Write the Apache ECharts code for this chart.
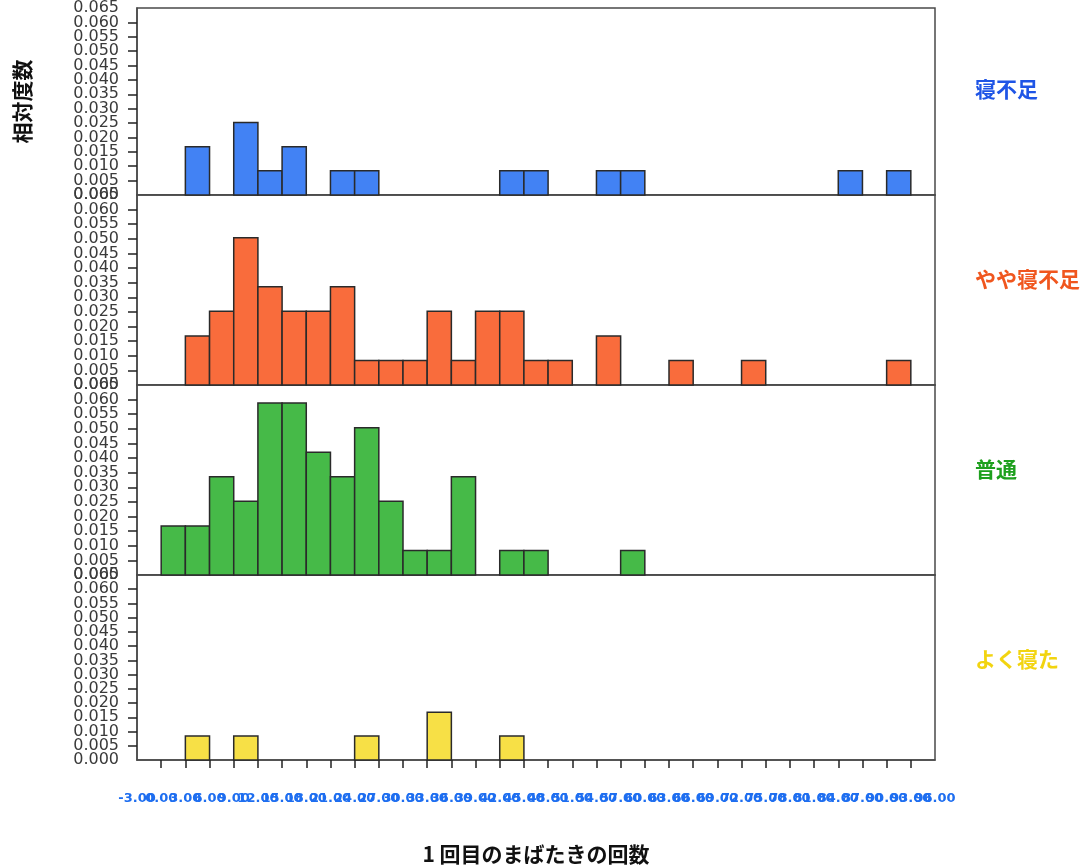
<!DOCTYPE html>
<html>
<head>
<meta charset="utf-8">
<script src="https://cdn.jsdelivr.net/npm/echarts@6/dist/echarts.min.js"></script>
<style>
  html, body { margin: 0; padding: 0; background: #ffffff; }
  #chart { width: 1089px; height: 866px; }
</style>
</head>
<body>
<div id="chart"></div>
<script>
// Histogram of blink counts (bins of width 3), one panel per sleep group
const groupNames = ['寝不足', 'やや寝不足', '普通', 'よく寝た'];
const binWidth = 3;

const shortSleepStart = [3, 9, 12, 15, 21, 24, 42, 45, 54, 57, 84, 90];
const shortSleepFreq  = [0.0168, 0.0252, 0.0084, 0.0168, 0.0084, 0.0084, 0.0084, 0.0084, 0.0084, 0.0084, 0.0084, 0.0084];

const slightlyShortStart = [3, 6, 9, 12, 15, 18, 21, 24, 27, 30, 33, 36, 39, 42, 45, 48, 54, 63, 72, 90];
const slightlyShortFreq  = [0.0168, 0.0252, 0.0504, 0.0336, 0.0252, 0.0252, 0.0336, 0.0084, 0.0084, 0.0084,
                            0.0252, 0.0084, 0.0252, 0.0252, 0.0084, 0.0084, 0.0168, 0.0084, 0.0084, 0.0084];

const normalStart = [0, 3, 6, 9, 12, 15, 18, 21, 24, 27, 30, 33, 36, 42, 45, 57];
const normalFreq  = [0.0168, 0.0168, 0.0336, 0.0252, 0.0588, 0.0588, 0.042, 0.0336, 0.0504, 0.0252,
                     0.0084, 0.0084, 0.0336, 0.0084, 0.0084, 0.0084];

const wellSleptStart = [3, 9, 24, 33, 42];
const wellSleptFreq  = [0.0084, 0.0084, 0.0084, 0.0168, 0.0084];

const xMin = -3, xMax = 96, xStep = 3;
const yMin = 0, yMax = 0.065, yStep = 0.005;

const groupStarts = [shortSleepStart, slightlyShortStart, normalStart, wellSleptStart];
const groupFreqs  = [shortSleepFreq, slightlyShortFreq, normalFreq, wellSleptFreq];

const fillColors  = ['#4282F4', '#F96C3C', '#46BA48', '#F7E046'];
const labelColors = ['#1F55E6', '#F0561E', '#1EA01E', '#F2D410'];

const plotLeft = 137, plotRight = 154;
const panelTops = [5, 195, 385, 575];
const panelHeight = 190;

const xLabelStyle = {
  margin: 32, hideOverlap: false,
  color: '#1E6EF0', fontFamily: 'DejaVu Sans', fontWeight: 'bold', fontSize: 13
};
const yLabelStyle = {
  margin: 18, hideOverlap: false,
  color: '#3a3a3a', fontFamily: 'DejaVu Sans', fontSize: 16
};
const isEnd = (v, lo, hi) => Math.abs(v - lo) < 1e-9 || Math.abs(v - hi) < 1e-9;

const chart = echarts.init(document.getElementById('chart'), null, { renderer: 'canvas' });

const grids = [], xAxes = [], yAxes = [], series = [], graphics = [];

groupNames.forEach((name, i) => {
  const isLast = i === groupNames.length - 1;
  grids.push({
    left: plotLeft, right: plotRight, top: panelTops[i], height: panelHeight,
    show: true, borderColor: '#4a4a4a', borderWidth: 1.5, backgroundColor: '#ffffff'
  });
  xAxes.push({
    type: 'value', gridIndex: i, min: xMin, max: xMax, interval: xStep,
    splitLine: { show: false },
    axisLine: { show: true, onZero: false, lineStyle: { color: '#4a4a4a', width: 1.5 } },
    axisTick: { show: isLast, length: 8, lineStyle: { color: '#222', width: 1.5 } },
    axisLabel: Object.assign({}, xLabelStyle, {
      show: isLast, showMinLabel: false, showMaxLabel: false,
      formatter: v => v.toFixed(2)
    }),
    name: isLast ? '1 回目のまばたきの回数' : '',
    nameLocation: 'middle', nameGap: 84,
    nameTextStyle: { color: '#111', fontFamily: 'Noto Sans CJK JP', fontWeight: 'bold', fontSize: 21 }
  });
  yAxes.push({
    type: 'value', gridIndex: i, min: yMin, max: yMax, interval: yStep,
    splitLine: { show: false },
    axisLine: { show: true, onZero: false, lineStyle: { color: '#4a4a4a', width: 1.5 } },
    axisTick: { show: true, length: 9, lineStyle: { color: '#222', width: 1.5 } },
    axisLabel: Object.assign({}, yLabelStyle, {
      showMinLabel: false, showMaxLabel: false,
      formatter: v => v.toFixed(3)
    }),
    name: i === 0 ? '相対度数' : '',
    nameLocation: 'middle', nameRotate: 90, nameGap: 104,
    nameTextStyle: { color: '#111', fontFamily: 'Noto Sans CJK JP', fontWeight: 'bold', fontSize: 21 }
  });
  // end labels (0.000 and 0.065) on an overlaid axis sharing the same scale
  yAxes.push({
    type: 'value', gridIndex: i, min: yMin, max: yMax, interval: yStep, position: 'left',
    splitLine: { show: false }, axisLine: { show: false }, axisTick: { show: false },
    axisLabel: Object.assign({}, yLabelStyle, {
      showMinLabel: true, showMaxLabel: true,
      formatter: v => isEnd(v, yMin, yMax) ? v.toFixed(3) : ''
    })
  });
  const data = groupStarts[i].map((s, k) => [s, s + binWidth, groupFreqs[i][k]]);
  series.push({
    type: 'custom', xAxisIndex: i, yAxisIndex: 2 * i, data: data,
    encode: { x: [0, 1], y: 2 },
    renderItem: (params, api) => {
      const topLeft = api.coord([api.value(0), api.value(2)]);
      const bottomRight = api.coord([api.value(1), 0]);
      return {
        type: 'rect',
        shape: { x: topLeft[0], y: topLeft[1], width: bottomRight[0] - topLeft[0], height: bottomRight[1] - topLeft[1] },
        style: { fill: fillColors[i], stroke: '#2a2a2a', lineWidth: 1.5 }
      };
    }
  });
  graphics.push({
    type: 'text', left: 975, top: panelTops[i] + panelHeight / 2 - 21,
    style: {
      text: name, fill: labelColors[i],
      font: 'bold 21px "Noto Sans CJK JP"'
    }
  });
});

// End labels of the bottom axis (min and max), on an overlaid axis sharing the same scale
xAxes.push({
  type: 'value', gridIndex: groupNames.length - 1, min: xMin, max: xMax, interval: xStep,
  position: 'bottom',
  splitLine: { show: false }, axisLine: { show: false }, axisTick: { show: false },
  axisLabel: Object.assign({}, xLabelStyle, {
    showMinLabel: true, showMaxLabel: true,
    formatter: v => isEnd(v, xMin, xMax) ? v.toFixed(2) : ''
  })
});

chart.setOption({
  backgroundColor: '#ffffff',
  animation: false,
  grid: grids,
  xAxis: xAxes,
  yAxis: yAxes,
  series: series,
  graphic: graphics
});
</script>
</body>
</html>
